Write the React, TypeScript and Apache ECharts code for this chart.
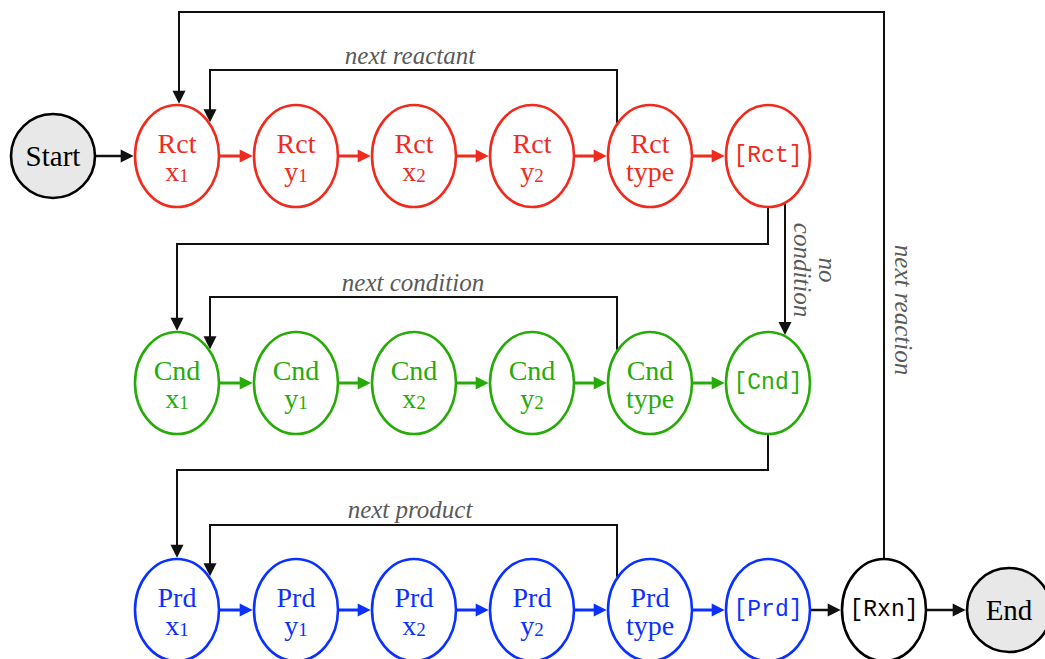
import React, { useEffect, useRef } from 'react';
import * as echarts from 'echarts';

// ---- data ----
const rowNames = ['Rct', 'Cnd', 'Prd'];
const rowColors = ['#EF2B1E', '#26AB08', '#0B31FF'];
const rowY = [156, 383, 610];
const colX = [177, 296, 414, 532, 650, 768];
const fieldNames = ['x', 'y', 'x', 'y', 'type'];
const fieldSubs = ['1', '1', '2', '2', ''];
const loopY = [70, 297, 525];
const loopRightX = 617;
const loopLeftX = 210;
const loopLabels = ['next reactant', 'next condition', 'next product'];
const loopLabelX = [410, 413, 410];
const loopLabelY = [55, 282, 509];
const connectorX = 768;
const connectorY = [244, 470];
const connectorDropX = 177;
const terminalNames = ['Start', 'End'];
const terminalX = [53, 1009];
const terminalY = [156, 610];
const rxnName = '[Rxn]';
const rxnX = 884;
const rxnY = 610;
const outerLoopY = 12;
const outerLoopX = 179;
const noConditionX = 785;
const sideLabels = ['no\ncondition', 'next reaction'];
const sideLabelX = [815, 903];
const sideLabelY = [270, 310];

// ---- tables built from the data ----
type Node = { x: number; y: number; kind: string; name: string; sub: string; color: string };
const nodes: Node[] = [];
rowNames.forEach((rn, r) => {
  colX.forEach((cx, c) => {
    if (c < fieldNames.length) {
      nodes.push({ x: cx, y: rowY[r], kind: 'field', name: rn, sub: fieldNames[c] + '|' + fieldSubs[c], color: rowColors[r] });
    } else {
      nodes.push({ x: cx, y: rowY[r], kind: 'bracket', name: '[' + rn + ']', sub: '', color: rowColors[r] });
    }
  });
});
const nid = (r: number, c: number) => r * colX.length + c;
const START = nodes.length;
nodes.push({ x: terminalX[0], y: terminalY[0], kind: 'terminal', name: terminalNames[0], sub: '', color: '#000' });
const END = nodes.length;
nodes.push({ x: terminalX[1], y: terminalY[1], kind: 'terminal', name: terminalNames[1], sub: '', color: '#000' });
const RXN = nodes.length;
nodes.push({ x: rxnX, y: rxnY, kind: 'rxn', name: rxnName, sub: '', color: '#000' });

type Edge = { pts: number[][]; from: number; to: number; color: string; width: number };
const LOOP = '#111111';
const edges: Edge[] = [];
edges.push({ pts: [[terminalX[0], terminalY[0]], [colX[0], rowY[0]]], from: START, to: nid(0, 0), color: LOOP, width: 2.5 });
rowNames.forEach((_, r) => {
  for (let c = 0; c < colX.length - 1; c++) {
    edges.push({ pts: [[colX[c], rowY[r]], [colX[c + 1], rowY[r]]], from: nid(r, c), to: nid(r, c + 1), color: rowColors[r], width: 3 });
  }
  edges.push({
    pts: [[loopRightX, rowY[r]], [loopRightX, loopY[r]], [loopLeftX, loopY[r]], [loopLeftX, rowY[r]]],
    from: nid(r, 4), to: nid(r, 0), color: LOOP, width: 2,
  });
});
connectorY.forEach((cy, i) => {
  edges.push({
    pts: [[connectorX, rowY[i]], [connectorX, cy], [connectorDropX, cy], [connectorDropX, rowY[i + 1]]],
    from: nid(i, 5), to: nid(i + 1, 0), color: LOOP, width: 2,
  });
});
edges.push({ pts: [[noConditionX, rowY[0]], [noConditionX, rowY[1]]], from: nid(0, 5), to: nid(1, 5), color: LOOP, width: 2 });
edges.push({ pts: [[colX[5], rowY[2]], [rxnX, rxnY]], from: nid(2, 5), to: RXN, color: LOOP, width: 2.5 });
edges.push({ pts: [[rxnX, rxnY], [terminalX[1], terminalY[1]]], from: RXN, to: END, color: LOOP, width: 2.5 });
edges.push({
  pts: [[rxnX, rxnY], [rxnX, outerLoopY], [outerLoopX, outerLoopY], [outerLoopX, rowY[0]]],
  from: RXN, to: nid(0, 0), color: LOOP, width: 2,
});

type Label = { x: number; y: number; text: string; rot: number };
const labels: Label[] = [];
loopLabels.forEach((t, i) => labels.push({ x: loopLabelX[i], y: loopLabelY[i], text: t, rot: 0 }));
sideLabels.forEach((t, i) => labels.push({ x: sideLabelX[i], y: sideLabelY[i], text: t, rot: -Math.PI / 2 }));

// ---- styles ----
const SERIF = '"Liberation Serif", "Times New Roman", serif';
const MONO = '"Liberation Mono", "Courier New", monospace';
const radii = (n: Node) => (n.kind === 'terminal' ? [42, 42] : [42, 51]);

function clip(inside: number[], outside: number[], c: number[], rx: number, ry: number) {
  const f = (p: number[]) => ((p[0] - c[0]) / rx) ** 2 + ((p[1] - c[1]) / ry) ** 2 - 1;
  let a = 0, b = 1;
  const at = (t: number) => [inside[0] + (outside[0] - inside[0]) * t, inside[1] + (outside[1] - inside[1]) * t];
  if (f(at(0)) >= 0) return inside;
  for (let i = 0; i < 40; i++) {
    const m = (a + b) / 2;
    if (f(at(m)) < 0) a = m; else b = m;
  }
  return at(b);
}

export default function App() {
  const ref = useRef<HTMLDivElement>(null);
  useEffect(() => {
    document.body.style.margin = '0';
    const chart = echarts.init(ref.current!, null, { renderer: 'svg' });
    chart.setOption({
      animation: false,
      backgroundColor: '#ffffff',
      grid: { left: 0, right: 0, top: 0, bottom: 0 },
      xAxis: { type: 'value', min: 0, max: 1045, show: false },
      yAxis: { type: 'value', min: 0, max: 659, inverse: true, show: false },
      series: [
        {
          type: 'custom',
          silent: true,
          clip: false,
          data: edges.map((_, i) => [i, 0]),
          renderItem: (params: any, api: any) => {
            const e = edges[params.dataIndex];
            const pts = e.pts.map((p) => api.coord(p));
            const fn = nodes[e.from];
            const [frx, fry] = radii(fn);
            pts[0] = clip(pts[0], pts[1], api.coord([fn.x, fn.y]), frx + 1, fry + 1);
            const tn = nodes[e.to];
            const [trx, try_] = radii(tn);
            const L = pts.length - 1;
            pts[L] = clip(pts[L], pts[L - 1], api.coord([tn.x, tn.y]), trx + 1.3, try_ + 1.3);
            const tip = pts[L];
            const prev = pts[L - 1];
            const dx = tip[0] - prev[0], dy = tip[1] - prev[1];
            const len = Math.hypot(dx, dy) || 1;
            const ux = dx / len, uy = dy / len;
            const AL = 13, AW = 6.5;
            const base = [tip[0] - ux * AL, tip[1] - uy * AL];
            const linePts = pts.slice(0, L).concat([[tip[0] - ux * (AL - 2), tip[1] - uy * (AL - 2)]]);
            const tri = [tip, [base[0] - uy * AW, base[1] + ux * AW], [base[0] + uy * AW, base[1] - ux * AW]];
            return {
              type: 'group',
              children: [
                { type: 'polyline', shape: { points: linePts }, style: { stroke: e.color, lineWidth: e.width, fill: null } },
                { type: 'polygon', shape: { points: tri }, style: { fill: e.color, stroke: null } },
              ],
            };
          },
        },
        {
          type: 'custom',
          silent: true,
          clip: false,
          data: nodes.map((_, i) => [i, 0]),
          renderItem: (params: any, api: any) => {
            const n = nodes[params.dataIndex];
            const c = api.coord([n.x, n.y]);
            const [rx, ry] = radii(n);
            const children: any[] = [
              {
                type: 'ellipse',
                shape: { cx: c[0], cy: c[1], rx, ry },
                style: { fill: n.kind === 'terminal' ? '#E8E8E8' : '#ffffff', stroke: n.color, lineWidth: 2.6 },
              },
            ];
            if (n.kind === 'field') {
              const [base, sub] = n.sub.split('|');
              const line2 = sub ? `{s|${base}}{d|${sub}}` : `{s|${base}}`;
              children.push({
                type: 'text',
                x: c[0],
                y: c[1] + 1,
                style: {
                  text: `{n|${n.name}}\n${line2}`,
                  align: 'center',
                  verticalAlign: 'middle',
                  fill: n.color,
                  rich: {
                    n: { fontFamily: SERIF, fontSize: 28, lineHeight: 28, fill: n.color, verticalAlign: 'bottom' },
                    s: { fontFamily: SERIF, fontSize: 28, lineHeight: 28, fill: n.color, verticalAlign: 'bottom' },
                    d: { fontFamily: SERIF, fontSize: 19, lineHeight: 22, fill: n.color, verticalAlign: 'bottom' },
                  },
                },
              });
            } else if (n.kind === 'terminal') {
              children.push({
                type: 'text', x: c[0], y: c[1],
                style: { text: n.name, fontFamily: SERIF, fontSize: 29, fill: '#000', align: 'center', verticalAlign: 'middle' },
              });
            } else {
              children.push({
                type: 'text', x: c[0], y: c[1],
                style: { text: n.name, fontFamily: MONO, fontSize: 23, fill: n.color, align: 'center', verticalAlign: 'middle' },
              });
            }
            return { type: 'group', children };
          },
        },
        {
          type: 'custom',
          silent: true,
          clip: false,
          data: labels.map((_, i) => [i, 0]),
          renderItem: (params: any, api: any) => {
            const l = labels[params.dataIndex];
            const c = api.coord([l.x, l.y]);
            return {
              type: 'text',
              x: c[0],
              y: c[1],
              rotation: l.rot,
              style: {
                text: l.text,
                fontFamily: SERIF,
                fontStyle: 'italic',
                fontSize: 25,
                lineHeight: 25,
                fill: '#5a5a5a',
                align: 'center',
                verticalAlign: 'middle',
              },
            };
          },
        },
      ],
    });
    return () => chart.dispose();
  }, []);
  return <div ref={ref} style={{ position: 'absolute', left: 0, top: 0, width: 1045, height: 659 }} />;
}
